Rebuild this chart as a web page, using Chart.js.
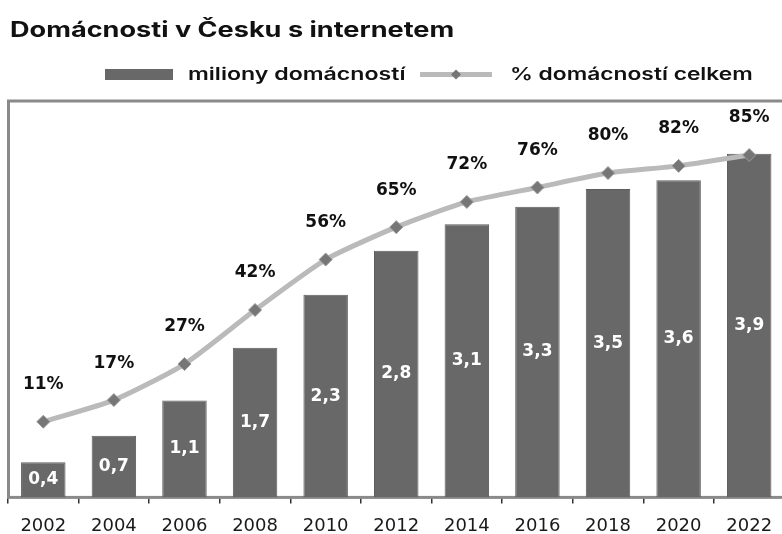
<!DOCTYPE html>
<html>
<head>
<meta charset="utf-8">
<script src="https://cdn.jsdelivr.net/npm/chart.js@4.4.1/dist/chart.umd.min.js"></script>
<style>
  html, body { margin: 0; padding: 0; background: #fff; overflow: hidden; }
  #wrap { position: relative; width: 792px; height: 534px; }
</style>
</head>
<body>
<div id="wrap"><canvas id="chart_households"></canvas></div>
<script>
// values
const chartTitle = 'Domácnosti v Česku s internetem';
const years = ['2002', '2004', '2006', '2008', '2010', '2012', '2014', '2016', '2018', '2020', '2022'];
const householdsMil = [0.4, 0.7, 1.1, 1.7, 2.3, 2.8, 3.1, 3.3, 3.5, 3.6, 3.9];
const sharePct = [11, 17, 27, 42, 56, 65, 72, 76, 80, 82, 85];
const seriesNames = ['miliony domácností', '% domácností celkem'];

const barColor = '#686868';
const lineColor = '#bababa';
const markerColor = '#767676';

// text drawn a bit wider than the font, like the source picture
function wideText(ctx, text, x, y, sx, align) {
  ctx.save();
  ctx.translate(x, y);
  ctx.scale(sx, 1);
  ctx.textAlign = align || 'left';
  ctx.fillText(text, 0, 0);
  ctx.restore();
}

const frameAndLabels = {
  id: 'frameAndLabels',
  beforeDatasetsDraw: (chart) => {
    const ctx = chart.ctx;
    const a = chart.chartArea;
    ctx.save();
    ctx.strokeStyle = '#8a8a8a';
    ctx.lineWidth = 3;
    ctx.strokeRect(a.left + 0.5, a.top, a.right - a.left, a.bottom - a.top);
    ctx.restore();
  },
  afterDatasetsDraw: (chart) => {
    const ctx = chart.ctx;
    const lineMeta = chart.getDatasetMeta(0);
    const barMeta = chart.getDatasetMeta(1);
    ctx.save();
    ctx.textBaseline = 'middle';
    ctx.textAlign = 'center';
    // values inside the bars
    ctx.fillStyle = '#ffffff';
    ctx.font = 'bold 17px "DejaVu Sans"';
    barMeta.data.forEach((bar, i) => {
      const txt = householdsMil[i].toFixed(1).replace('.', ',');
      ctx.fillText(txt, bar.x, (bar.y + bar.base) / 2);
    });
    // percentages above the line
    ctx.fillStyle = '#111111';
    lineMeta.data.forEach((pt, i) => {
      ctx.fillText(sharePct[i] + '%', pt.x, pt.y - 37);
    });
    ctx.restore();
  },
  afterDraw: (chart) => {
    const ctx = chart.ctx;
    ctx.save();
    ctx.textBaseline = 'alphabetic';
    ctx.fillStyle = '#111111';
    ctx.font = '700 21px Inter';
    wideText(ctx, chartTitle, 10, 37, 1.29, 'left');

    // legend: bar swatch
    ctx.fillStyle = barColor;
    ctx.fillRect(105, 69, 68, 11);
    ctx.fillStyle = '#111111';
    ctx.font = '600 17px Inter';
    wideText(ctx, seriesNames[0], 188, 80, 1.36, 'left');

    // legend: line swatch with diamond
    ctx.strokeStyle = lineColor;
    ctx.lineWidth = 5;
    ctx.beginPath();
    ctx.moveTo(420, 74.5);
    ctx.lineTo(492, 74.5);
    ctx.stroke();
    ctx.fillStyle = markerColor;
    ctx.beginPath();
    ctx.moveTo(456, 69.5);
    ctx.lineTo(461, 74.5);
    ctx.lineTo(456, 79.5);
    ctx.lineTo(451, 74.5);
    ctx.closePath();
    ctx.fill();
    ctx.fillStyle = '#111111';
    wideText(ctx, seriesNames[1], 510, 80, 1.34, 'left');
    ctx.restore();
  }
};

var chart_households = new Chart(document.getElementById('chart_households'), {
  type: 'bar',
  data: {
    labels: years,
    datasets: [
      {
        type: 'line',
        label: seriesNames[1],
        data: sharePct,
        yAxisID: 'y1',
        borderColor: lineColor,
        borderWidth: 5,
        tension: 0.2,
        pointStyle: 'rectRot',
        pointRadius: 6.5,
        pointBackgroundColor: markerColor,
        pointBorderColor: '#9a9a9a',
        pointBorderWidth: 1,
        order: 0
      },
      {
        type: 'bar',
        label: seriesNames[0],
        data: householdsMil,
        yAxisID: 'y',
        backgroundColor: barColor,
        borderColor: '#5c5c5c',
        borderWidth: 1,
        categoryPercentage: 1,
        barPercentage: 0.63,
        order: 1
      }
    ]
  },
  options: {
    animation: false,
    responsive: true,
    maintainAspectRatio: false,
    layout: {
      padding: { top: 101, left: 8, right: 3, bottom: -15 }
    },
    plugins: {
      legend: { display: false },
      title: { display: false },
      tooltip: { enabled: false }
    },
    scales: {
      x: {
        offset: true,
        grid: {
          display: true,
          offset: true,
          drawOnChartArea: false,
          drawTicks: true,
          tickLength: 6,
          color: '#333333',
          lineWidth: 1.5
        },
        border: { display: true, color: '#333333', width: 2 },
        ticks: {
          color: '#1a1a1a',
          padding: 12,
          font: { family: 'DejaVu Sans', size: 18 }
        }
      },
      y: {
        display: false,
        min: 0,
        max: 4.5
      },
      y1: {
        display: false,
        min: -10,
        max: 100
      }
    }
  },
  plugins: [frameAndLabels, {
    id: 'whiteBackground',
    beforeDraw: (chart) => {
      const ctx = chart.canvas.getContext('2d');
      ctx.save();
      ctx.globalCompositeOperation = 'destination-over';
      ctx.fillStyle = 'white';
      ctx.fillRect(0, 0, chart.canvas.width, chart.canvas.height);
      ctx.restore();
    }
  }]
});
</script>
</body>
</html>
